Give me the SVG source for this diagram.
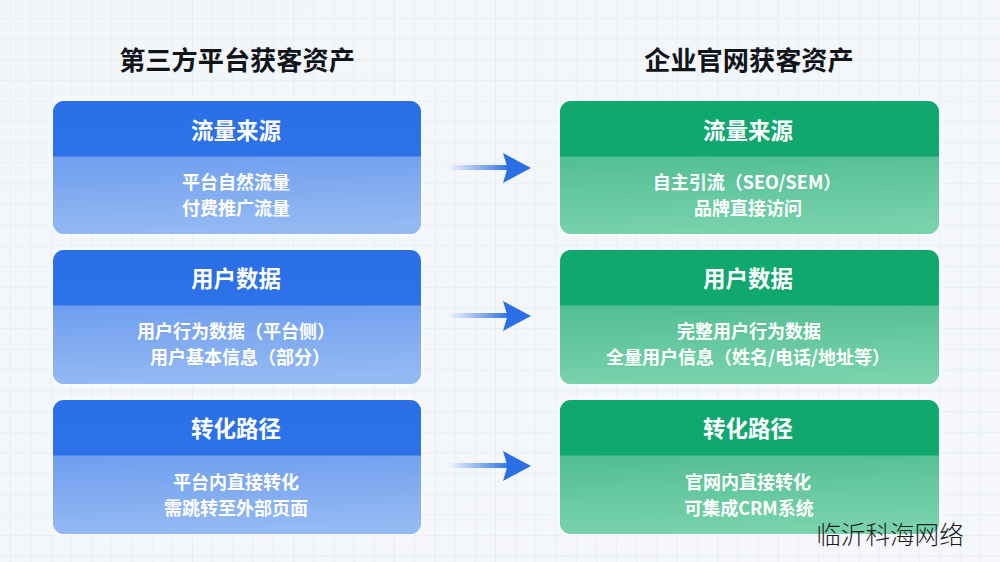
<svg xmlns="http://www.w3.org/2000/svg" width="1000" height="562" viewBox="0 0 1000 562">
<style>
text{font-family:"Noto Sans CJK SC","Liberation Sans",sans-serif;text-anchor:middle}
.title{font-size:26.2px;font-weight:700;fill:#111418}
.head{font-size:22.5px;font-weight:700;fill:#fff}
.body{font-size:18px;font-weight:700;fill:#fff}
.mark{font-size:24.6px;font-weight:300;fill:#1c1c1c}
.frame{filter:url(#soft)}
</style>
<defs>
<pattern id="grid" width="20.2" height="20.7" x="-10" y="-3" patternUnits="userSpaceOnUse">
<path d="M0.5 0V20.7M0 0.5H20.2" fill="none" stroke="#e9edf2" stroke-width="1"/>
</pattern>
<linearGradient id="bg" x1="0" y1="0" x2="1" y2="1"><stop offset="0" stop-color="#f3f6f9"/><stop offset="1" stop-color="#f5f7fb"/></linearGradient>
<linearGradient id="blueHead" x1="0" y1="0" x2="0" y2="1"><stop offset="0" stop-color="#2a6fe6"/><stop offset="1" stop-color="#2d72e9"/></linearGradient>
<linearGradient id="blueBody" x1="0" y1="0" x2="0.15" y2="1"><stop offset="0" stop-color="#6f9eef"/><stop offset="1" stop-color="#94b9f3"/></linearGradient>
<linearGradient id="greenHead" x1="0" y1="0" x2="0" y2="1"><stop offset="0" stop-color="#10a86f"/><stop offset="1" stop-color="#11a870"/></linearGradient>
<linearGradient id="greenBody" x1="0" y1="0" x2="0.15" y2="1"><stop offset="0" stop-color="#52bd94"/><stop offset="1" stop-color="#78d2ac"/></linearGradient>
<linearGradient id="shaft" x1="448" y1="0" x2="510" y2="0" gradientUnits="userSpaceOnUse"><stop offset="0" stop-color="#2a6fe6" stop-opacity="0"/><stop offset="1" stop-color="#2a6fe6"/></linearGradient>
<filter id="soft" x="-5%" y="-10%" width="110%" height="120%"><feDropShadow dx="0" dy="0" stdDeviation="3" flood-color="#ffffff" flood-opacity="1"/></filter>
<clipPath id="c1"><rect x="53" y="101" width="368" height="133" rx="11"/></clipPath>
<clipPath id="c2"><rect x="53" y="250" width="368" height="134" rx="11"/></clipPath>
<clipPath id="c3"><rect x="53" y="400" width="368" height="134" rx="11"/></clipPath>
<clipPath id="c4"><rect x="560" y="101" width="379" height="133" rx="11"/></clipPath>
<clipPath id="c5"><rect x="560" y="250" width="379" height="134" rx="11"/></clipPath>
<clipPath id="c6"><rect x="560" y="400" width="379" height="134" rx="11"/></clipPath>
</defs>
<rect width="1000" height="562" fill="url(#bg)"/>
<rect width="1000" height="562" fill="url(#grid)"/>
<text class="title" x="237" y="70">第三方平台获客资产</text>
<text class="title" x="749" y="70">企业官网获客资产</text>

<g id="left-traffic">
<rect class="frame" x="53" y="101" width="368" height="133" rx="11" fill="#94b9f3"/>
<g clip-path="url(#c1)"><rect x="53" y="156" width="368" height="78" fill="url(#blueBody)"/><rect x="53" y="101" width="368" height="55.500" fill="url(#blueHead)"/></g>
<text class="head" x="236" y="139">流量来源</text>
<text class="body" x="236" y="189">平台自然流量</text>
<text class="body" x="236" y="215">付费推广流量</text>
</g>
<g id="left-data">
<rect class="frame" x="53" y="250" width="368" height="134" rx="11" fill="#94b9f3"/>
<g clip-path="url(#c2)"><rect x="53" y="305" width="368" height="79" fill="url(#blueBody)"/><rect x="53" y="250" width="368" height="55.500" fill="url(#blueHead)"/></g>
<text class="head" x="236" y="287">用户数据</text>
<text class="body" x="236" y="338">用户行为数据（平台侧）</text>
<text class="body" x="240" y="364">用户基本信息（部分）</text>
</g>
<g id="left-path">
<rect class="frame" x="53" y="400" width="368" height="134" rx="11" fill="#94b9f3"/>
<g clip-path="url(#c3)"><rect x="53" y="455" width="368" height="79" fill="url(#blueBody)"/><rect x="53" y="400" width="368" height="55.500" fill="url(#blueHead)"/></g>
<text class="head" x="236" y="437">转化路径</text>
<text class="body" x="236" y="489">平台内直接转化</text>
<text class="body" x="236" y="515">需跳转至外部页面</text>
</g>

<g id="right-traffic">
<rect class="frame" x="560" y="101" width="379" height="133" rx="11" fill="#78d2ac"/>
<g clip-path="url(#c4)"><rect x="560" y="156" width="379" height="78" fill="url(#greenBody)"/><rect x="560" y="101" width="379" height="55.500" fill="url(#greenHead)"/></g>
<text class="head" x="748" y="139">流量来源</text>
<text class="body" x="747" y="189">自主引流（SEO/SEM）</text>
<text class="body" x="748" y="215">品牌直接访问</text>
</g>
<g id="right-data">
<rect class="frame" x="560" y="250" width="379" height="134" rx="11" fill="#78d2ac"/>
<g clip-path="url(#c5)"><rect x="560" y="305" width="379" height="79" fill="url(#greenBody)"/><rect x="560" y="250" width="379" height="55.500" fill="url(#greenHead)"/></g>
<text class="head" x="748" y="287">用户数据</text>
<text class="body" x="749" y="338">完整用户行为数据</text>
<text class="body" x="748" y="364">全量用户信息（姓名/电话/地址等）</text>
</g>
<g id="right-path">
<rect class="frame" x="560" y="400" width="379" height="134" rx="11" fill="#78d2ac"/>
<g clip-path="url(#c6)"><rect x="560" y="455" width="379" height="79" fill="url(#greenBody)"/><rect x="560" y="400" width="379" height="55.500" fill="url(#greenHead)"/></g>
<text class="head" x="748" y="437">转化路径</text>
<text class="body" x="748" y="489">官网内直接转化</text>
<text class="body" x="749" y="515">可集成CRM系统</text>
</g>

<g id="connectors">
<g id="arrow-1"><rect x="448" y="165" width="62" height="5" fill="url(#shaft)"/><polygon points="503,153 531,168 503,183 507.500,168" fill="#2a6fe6"/></g>
<g id="arrow-2"><rect x="448" y="313" width="62" height="5" fill="url(#shaft)"/><polygon points="503,301 531,316 503,331 507.500,316" fill="#2a6fe6"/></g>
<g id="arrow-3"><rect x="448" y="463" width="62" height="5" fill="url(#shaft)"/><polygon points="503,451 531,466 503,481 507.500,466" fill="#2a6fe6"/></g>
</g>
<text class="mark" x="890" y="544">临沂科海网络</text>
</svg>
